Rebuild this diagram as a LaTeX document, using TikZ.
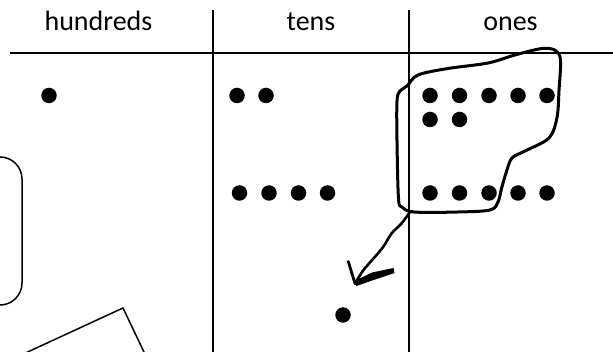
\documentclass[tikz,border=0pt]{standalone}
\usepackage{fontspec}
\setmainfont{Carlito}
\begin{document}
\begin{tikzpicture}[x=1pt,y=-1pt,
  gridline/.style={line width=1.5pt},
  dot/.style={circle,fill=black,inner sep=0pt,minimum size=15.5pt},
  head/.style={anchor=base,font=\fontsize{28}{30}\selectfont},
  ink/.style={line width=3pt,line cap=round,line join=round}]
\useasboundingbox (0,0) rectangle (613,352);
\clip (0,0) rectangle (613,352);
% headers
\node[head] (hh) at (98.5,31) {hundreds};
\node[head] (ht) at (311,31) {tens};
\node[head] (ho) at (510.5,31) {ones};
% grid
\coordinate (hl) at (10,53);
\coordinate (hr) at (613,53);
\coordinate (v1t) at (213,10);
\coordinate (v1b) at (213,352);
\coordinate (v2t) at (409,10);
\coordinate (v2b) at (409,352);
\draw[gridline] (hl) -- (hr);
\draw[gridline] (v1t) -- (v1b);
\draw[gridline] (v2t) -- (v2b);
% hundreds
\node[dot] (h1) at (49,95.5) {};
% tens
\node[dot] (t1) at (237,95.5) {};
\node[dot] (t2) at (266,95.5) {};
\node[dot] (t3) at (239.5,193) {};
\node[dot] (t4) at (269,193) {};
\node[dot] (t5) at (298.5,193) {};
\node[dot] (t6) at (327.5,193) {};
\node[dot] (t7) at (343,315) {};
% ones
\foreach \i/\x in {1/430,2/459.5,3/489,4/518,5/547}{
  \node[dot] (oa\i) at (\x,95.5) {};
  \node[dot] (oc\i) at (\x,193) {};
}
\node[dot] (ob1) at (430,119.5) {};
\node[dot] (ob2) at (459.5,119.5) {};
% blob
\draw[ink] plot[smooth cycle,tension=0.55] coordinates {
 (407,86) (418,75) (448,68.5) (488,63) (515,55) (542,48.5) (555.5,50.5)
 (560.5,60) (559,90.5) (557,117.5) (549,138) (525,151) (512,158)
 (506.5,171.5) (501.5,188.5) (498,202) (490,210) (458,212) (414,212)
 (402,207) (398.5,198.5) (397,141) (397,101) (400,91)};
% arrow
\coordinate (as) at (410,212);
\coordinate (at) at (355,283.5);
\coordinate (aw1) at (348.3,261.5);
\coordinate (aw2) at (393.5,271);
\draw[line width=2.6pt,line cap=round,line join=round] plot[smooth,tension=0.5] coordinates {(as) (401.5,223.5) (391.5,233.5) (383.5,246.5) (373.5,258.5) (363.5,270) (at)};
\draw[line width=2.8pt,line cap=round,line join=round] (aw1) -- (at);
\fill[line join=round] (353.5,281.5) -- (372,272.5) -- (393.5,268) -- (394.5,273) -- (375,279.5) -- (356.5,286) -- cycle;
% left rounded box and rotated box
\draw[gridline] (-60,157) [rounded corners=22pt] rectangle (22,305);
\coordinate (r1) at (10.3,360);
\coordinate (rc) at (123,308);
\coordinate (r2) at (147.8,360);
\draw[gridline,line join=miter] (r1) -- (rc) -- (r2);
\end{tikzpicture}
\end{document}
